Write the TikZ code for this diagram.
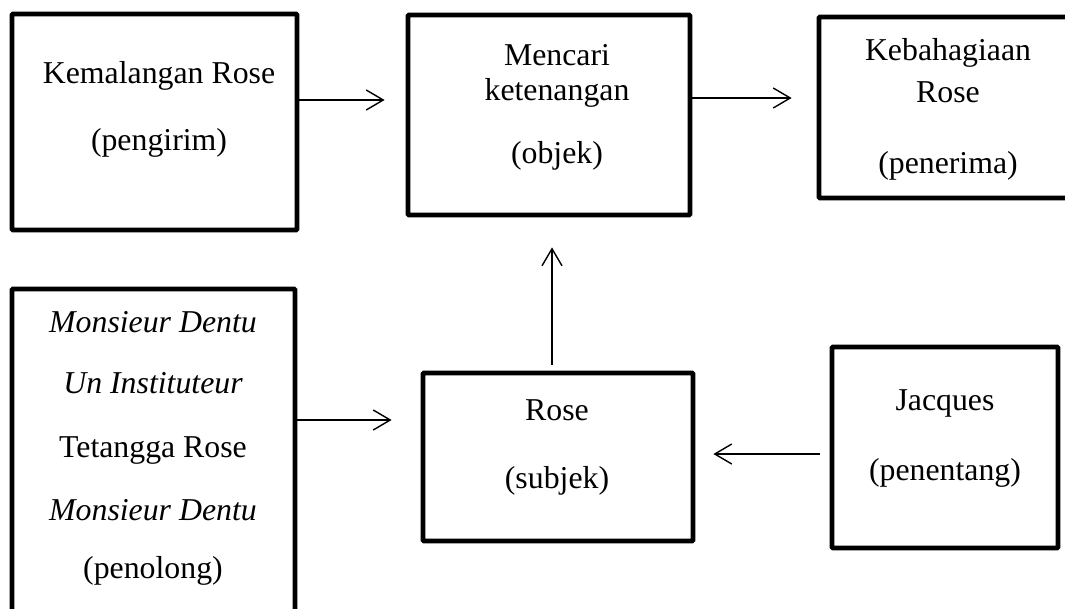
\documentclass[tikz,border=0pt]{standalone}
\usepackage{fontspec}
\setmainfont{Liberation Serif}
\usetikzlibrary{arrows.meta,calc,positioning}
\newcommand{\aktanfont}{\fontsize{31.8}{38}\selectfont}

\begin{document}
\begin{tikzpicture}[
    x=1pt, y=-1pt,
    box/.style={draw, rectangle, line width=4.8pt, rounded corners=1pt, inner sep=0},
    txt/.style={anchor=base, inner sep=0, font=\aktanfont},
    link/.style={draw, line width=1.4pt, -{Straight Barb[length=17pt, width=20pt, line width=1.4pt]}}]
\clip (0,0) rectangle (1065,608);
\useasboundingbox (0,0) rectangle (1065,608);

\node (pengirim) [box, minimum width=285pt, minimum height=216pt] at (154.5,122) {};
\node (objek)    [box, minimum width=282pt, minimum height=200pt] at (549,115) {};
\node (penerima) [box, minimum width=256pt, minimum height=181pt] at (947,107.5) {};
\node (penolong) [box, minimum width=283pt, minimum height=341pt] at (153.5,459.5) {};
\node (subjek)   [box, minimum width=270pt, minimum height=168pt] at (558,457) {};
\node (penentang)[box, minimum width=226pt, minimum height=201pt] at (945,447.5) {};

\node (pengirim-1) [txt] at (159,83)  {Kemalangan Rose};
\node (pengirim-2) [txt] at (159,150) {(pengirim)};
\node (objek-1)    [txt] at (557,65)  {Mencari};
\node (objek-2)    [txt] at (557,100) {ketenangan};
\node (objek-3)    [txt] at (557,163) {(objek)};
\node (penerima-1) [txt] at (948,60)  {Kebahagiaan};
\node (penerima-2) [txt] at (948,102) {Rose};
\node (penerima-3) [txt] at (948,173) {(penerima)};
\node (penolong-1) [txt] at (153,332) {\itshape Monsieur Dentu};
\node (penolong-2) [txt] at (153,393) {\itshape Un Instituteur};
\node (penolong-3) [txt] at (153,457) {Tetangga Rose};
\node (penolong-4) [txt] at (153,520) {\itshape Monsieur Dentu};
\node (penolong-5) [txt] at (153,578) {(penolong)};
\node (subjek-1)   [txt] at (557,420) {Rose};
\node (subjek-2)   [txt] at (557,488) {(subjek)};
\node (penentang-1)[txt] at (945,410) {Jacques};
\node (penentang-2)[txt] at (945,480) {(penentang)};

\path[link, shorten >=21pt] ([yshift=22pt]pengirim.east) -- ([yshift=22pt]pengirim.east -| objek.west);
\path[link, shorten >=25pt] ([yshift=17pt]objek.east) -- ([yshift=17pt]objek.east -| penerima.west);
\path[link, shorten <=6pt, shorten >=30pt] ([xshift=-6pt]subjek.north) -- ([xshift=-6pt]subjek.north |- objek.south);
\path[link, shorten >=29pt] ([yshift=39.5pt]penolong.east) -- ([yshift=39.5pt]penolong.east -| subjek.west);
\path[link, shorten <=10pt, shorten >=18pt] ([yshift=-6.5pt]penentang.west) -- ([yshift=-6.5pt]penentang.west -| subjek.east);

\end{tikzpicture}
\end{document}
